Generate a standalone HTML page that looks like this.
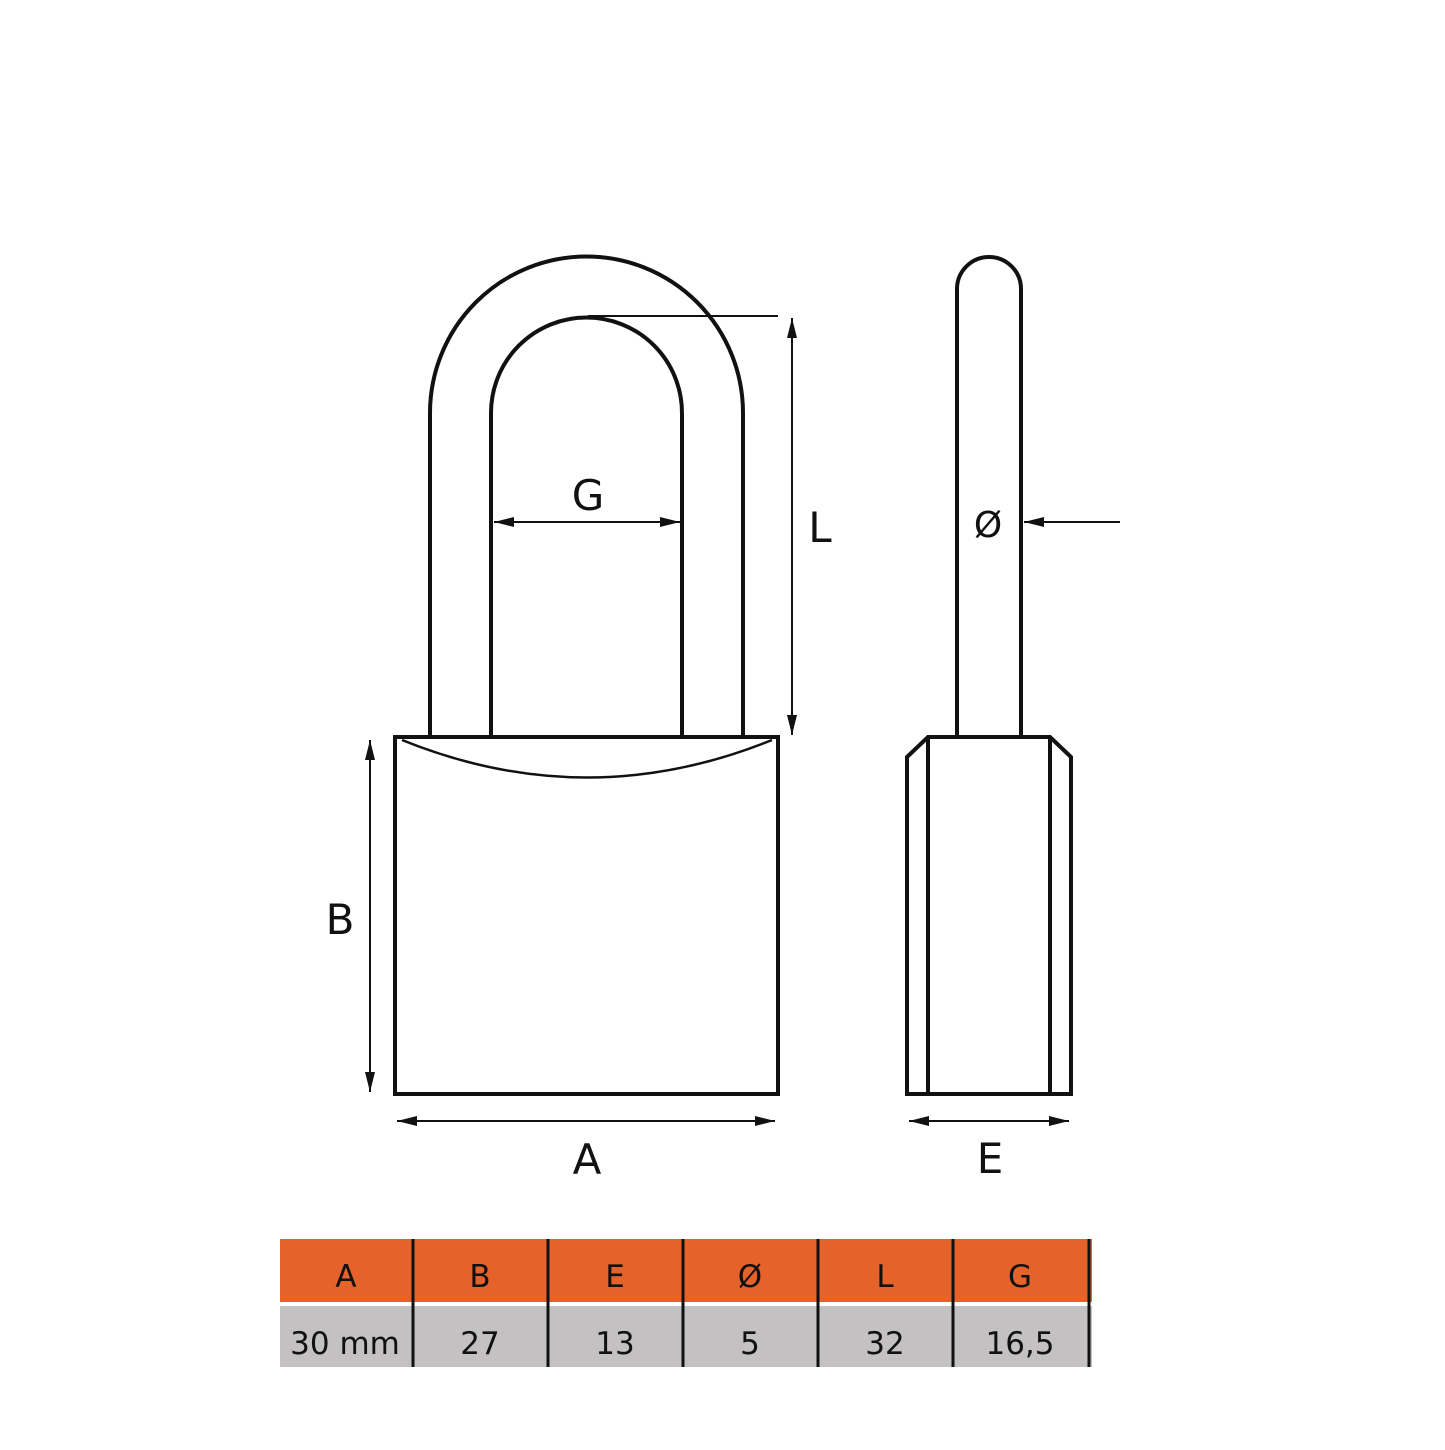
<!DOCTYPE html>
<html><head><style>
body{margin:0;background:#fff;}
svg text{font-family:"DejaVu Sans","Liberation Sans",sans-serif;fill:#111;}
</style></head><body>
<svg width="1445" height="1445" viewBox="0 0 1445 1445" xmlns="http://www.w3.org/2000/svg">
<defs>
<marker id="ar" viewBox="0 0 10 10" refX="10" refY="5" markerWidth="7" markerHeight="7" orient="auto-start-reverse" markerUnits="userSpaceOnUse">
<path d="M0,0 L10,5 L0,10 z" fill="#111"/></marker>
<marker id="a2" viewBox="0 0 20 10" refX="20" refY="5" markerWidth="20" markerHeight="10" orient="auto-start-reverse" markerUnits="userSpaceOnUse">
<path d="M0,0 L20,5 L0,10 z" fill="#111"/></marker>
</defs>
<g fill="none" stroke="#111" stroke-width="4">
<path d="M430,737 V413 A156.5,156.5 0 0 1 743,413 V737"/>
<path d="M491,737 V413 A95.5,95.5 0 0 1 682,413 V737"/>
<rect x="395" y="737" width="383" height="357"/>
<path d="M957,737 V289 A32,32 0 0 1 1021,289 V737"/>
<path d="M907,757 L928,737 L1050,737 L1071,757 V1094 H907 Z"/>
<path d="M928,737 V1094 M1050,737 V1094"/>
</g>
<path d="M402,740 Q587,815 772,740" fill="none" stroke="#111" stroke-width="2.5"/>
<g stroke="#111" stroke-width="2" fill="none">
<path d="M588,316 H778"/>
<line x1="792" y1="318" x2="792" y2="735" marker-start="url(#a2)" marker-end="url(#a2)"/>
<line x1="494" y1="522" x2="680" y2="522" marker-start="url(#a2)" marker-end="url(#a2)"/>
<line x1="370" y1="740" x2="370" y2="1092" marker-start="url(#a2)" marker-end="url(#a2)"/>
<line x1="397" y1="1121" x2="775" y2="1121" marker-start="url(#a2)" marker-end="url(#a2)"/>
<line x1="909" y1="1121" x2="1069" y2="1121" marker-start="url(#a2)" marker-end="url(#a2)"/>
<line x1="1120" y1="522" x2="1024" y2="522" marker-end="url(#a2)"/>
</g>
<g font-size="42" text-anchor="middle">
<text x="588" y="510">G</text>
<text x="820" y="542">L</text>
<text x="340" y="934">B</text>
<text x="587" y="1174">A</text>
<text x="990" y="1173">E</text>
<text x="988" y="537" font-size="36">Ø</text>
</g>
<rect x="280" y="1239" width="812" height="63" fill="#e5622a"/>
<rect x="280" y="1306" width="812" height="61" fill="#c3c1c2"/>
<g stroke="#111" stroke-width="3">
<path d="M413,1239V1367M548,1239V1367M683,1239V1367M818,1239V1367M953,1239V1367M1089,1239V1367"/>
</g>
<g font-size="31" text-anchor="middle">
<text x="346" y="1287">A</text><text x="480" y="1287">B</text><text x="615" y="1287">E</text>
<text x="750" y="1287">Ø</text><text x="885" y="1287">L</text><text x="1020" y="1287">G</text>
<text x="345" y="1354">30 mm</text><text x="480" y="1354">27</text><text x="615" y="1354">13</text>
<text x="750" y="1354">5</text><text x="885" y="1354">32</text><text x="1020" y="1354">16,5</text>
</g>
</svg>
</body></html>
